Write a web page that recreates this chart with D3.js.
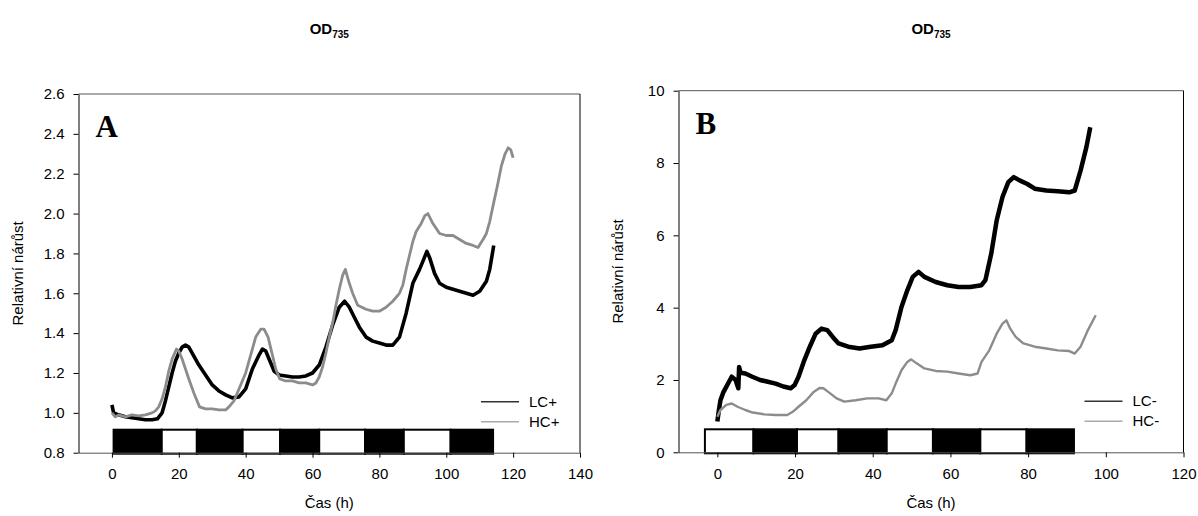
<!DOCTYPE html>
<html><head><meta charset="utf-8">
<script src="https://cdn.jsdelivr.net/npm/d3@7/dist/d3.min.js"></script>
<style>
body{margin:0;background:#fff;}
svg{display:block;font-family:"Liberation Sans",Arial,sans-serif;}
</style></head>
<body><svg id="c" width="1198" height="516"></svg>
<script>
// ---------- Panel A data ----------
const tA_LC = [0,0.5,2,4,6,8,10,12,13.6,15,16,17,18,19,20,21,22,23,24,26,28,30,32,34,36,38,40,42,44,45,46,47,48.5,50,52,54,56,58,60,62,64,66,68,69.6,71,72.5,74,76,78,80,82,84,86,88,90,92,93,94.2,95,96.5,98,100,102,104,106,108,110,112,113,114.2];
const vA_LC = [1.04,1.0,0.99,0.98,0.975,0.97,0.965,0.965,0.97,1.0,1.06,1.13,1.2,1.26,1.3,1.33,1.34,1.33,1.30,1.24,1.19,1.14,1.11,1.09,1.075,1.08,1.12,1.22,1.29,1.32,1.31,1.27,1.21,1.19,1.185,1.18,1.18,1.185,1.20,1.24,1.33,1.44,1.53,1.56,1.53,1.48,1.43,1.38,1.36,1.35,1.34,1.34,1.38,1.50,1.65,1.72,1.76,1.81,1.78,1.70,1.65,1.63,1.62,1.61,1.60,1.59,1.61,1.66,1.72,1.84];
const tA_HC = [0,1,2,4,6,8,10,12,13,14,15,16,17,18,19.3,20,21,22,23,24.5,26.2,28,30,32,34,35,36.5,38,40,42,43,44.5,45.5,46.7,48,49,50.2,52,54,56,58,60,61,62,63,64,65,66,67,68,69,69.8,71,72,73.5,76,78,80,82,84,86,87,88,90,91,92.5,93.6,94.5,96,98,100,102,104,106,108,109.5,111,112,113,114,115.3,116.5,117.6,118.5,119.3,120];
const vA_HC = [1.0,0.98,0.99,0.98,0.99,0.985,0.99,1.0,1.01,1.03,1.07,1.13,1.21,1.27,1.32,1.31,1.27,1.22,1.17,1.10,1.03,1.02,1.02,1.015,1.015,1.03,1.06,1.12,1.20,1.32,1.38,1.42,1.42,1.38,1.29,1.22,1.17,1.16,1.16,1.15,1.15,1.14,1.15,1.18,1.23,1.30,1.38,1.45,1.54,1.62,1.69,1.72,1.65,1.60,1.54,1.52,1.51,1.51,1.53,1.56,1.60,1.64,1.72,1.86,1.91,1.95,1.99,2.00,1.95,1.90,1.89,1.89,1.87,1.85,1.84,1.83,1.87,1.90,1.96,2.04,2.14,2.24,2.30,2.33,2.32,2.28,2.17];
const barStartA = [0.5,14.9,25.4,39.1,50.3,62.0,75.7,87.3,101.3];
const barEndA   = [14.9,25.4,39.1,50.3,62.0,75.7,87.3,101.3,114];
const barTypeA  = ["D","L","D","L","D","L","D","L","D"];
const xTicksA = [0,20,40,60,80,100,120,140];
const yTicksA = [0.8,1.0,1.2,1.4,1.6,1.8,2.0,2.2,2.4,2.6];
const legendA = ["LC+","HC+"];

// ---------- Panel B data ----------
const tB_LC = [0,0.4,0.8,1.5,2.3,3,3.7,4.7,5.4,5.6,6,7.2,9,11,13,15,17,18.9,19.9,20.9,22.4,23.8,25.3,26.8,28.3,29.7,31.2,33.7,36.6,39.5,42.5,44.9,45.9,47.4,48.9,50.3,51.8,53.3,56.2,59.2,62.1,65.1,68,69,70.5,71.9,73.4,74.9,76.3,77.8,79.8,81.7,84.7,87.6,90.6,92,93.5,95,96];
const vB_LC = [0.85,1.17,1.44,1.65,1.81,1.95,2.09,2.0,1.77,2.36,2.2,2.18,2.09,2.0,1.95,1.9,1.82,1.77,1.86,2.09,2.55,2.92,3.28,3.42,3.38,3.19,3.01,2.92,2.87,2.92,2.96,3.1,3.38,4.02,4.48,4.85,4.99,4.85,4.71,4.62,4.57,4.57,4.62,4.76,5.49,6.41,7.06,7.47,7.61,7.52,7.42,7.29,7.24,7.22,7.19,7.24,7.79,8.44,8.99];
const tB_HC = [0,0.8,2.3,3.7,5.2,7.2,9.1,12.1,15,18,19.4,20.9,22.9,24.8,26.3,27.3,28.8,30.7,32.7,35.6,38.6,41.5,43.5,44.9,45.9,47.4,48.9,49.9,51.3,53.3,56.2,59.2,62.1,65.1,67,68,70,71.9,73.4,74.4,75.4,76.8,78.8,81.7,84.7,87.6,90.6,92,93.5,95.4,97.4];
const vB_HC = [0.98,1.17,1.31,1.35,1.26,1.17,1.1,1.05,1.03,1.03,1.12,1.26,1.44,1.67,1.78,1.77,1.65,1.49,1.40,1.44,1.49,1.49,1.44,1.63,1.9,2.27,2.5,2.57,2.46,2.32,2.25,2.23,2.18,2.13,2.18,2.5,2.82,3.28,3.56,3.65,3.42,3.19,3.01,2.92,2.87,2.82,2.80,2.73,2.92,3.38,3.79];
const barStartB = [-3.2,9.3,20.5,31.2,43.6,55.5,67.7,79.6];
const barEndB   = [9.3,20.5,31.2,43.6,55.5,67.7,79.6,91.8];
const barTypeB  = ["L","D","L","D","L","D","L","D"];
const xTicksB = [0,20,40,60,80,100,120];
const yTicksB = [0,2,4,6,8,10];
const legendB = ["LC-","HC-"];

const panelLetters = ["A","B"];
const xTitle = "Čas (h)";
const yTitle = "Relativní nárůst";

const svg = d3.select("#c");

function panel(cfg){
  const {x, y, tLC, vLC, tHC, vHC, bs, be, bt, xt, yt, yfmt, leg, letter, lcW, hcW} = cfg;
  const g = svg.append("g");
  const [x0,x1] = x.range(), [y0,y1] = y.range();
  g.append("line").attr("x1",x0).attr("x2",x1).attr("y1",y1).attr("y2",y1).attr("stroke","#555");
  g.append("line").attr("x1",x1).attr("x2",x1).attr("y1",y1).attr("y2",y0).attr("stroke","#000");
  const line = d3.line().x(d=>x(d[0])).y(d=>y(d[1]));
  g.append("path").datum(d3.zip(tLC,vLC)).attr("d",line).attr("fill","none")
    .attr("stroke","#000").attr("stroke-width",lcW).attr("stroke-linejoin","round");
  g.append("path").datum(d3.zip(tHC,vHC)).attr("d",line).attr("fill","none")
    .attr("stroke","#8c8c8c").attr("stroke-width",hcW).attr("stroke-linejoin","round");
  const bars = d3.zip(bs,be,bt);
  g.selectAll("rect.bar").data(bars).join("rect").attr("class","bar")
    .attr("x",d=>x(d[0])).attr("width",d=>x(d[1])-x(d[0]))
    .attr("y",y0-23).attr("height",24)
    .attr("fill",d=>d[2]==="D"?"#000":"#fff")
    .attr("stroke","#000").attr("stroke-width",2);
  const ax = g.append("g").attr("transform",`translate(0,${y0})`)
    .call(d3.axisBottom(x).tickValues(xt).tickSize(5).tickSizeOuter(0).tickPadding(11).tickFormat(d3.format("d")));
  const ay = g.append("g").attr("transform",`translate(${x0},0)`)
    .call(d3.axisLeft(y).tickValues(yt).tickSize(5).tickSizeOuter(0).tickPadding(9).tickFormat(yfmt));
  ax.select(".domain").attr("stroke","#555");
  ay.select(".domain").attr("stroke","#000");
  [ax,ay].forEach(a=>{a.selectAll("text").attr("font-size",15).attr("fill","#000").attr("font-family","Liberation Sans, Arial");
    a.selectAll(".tick line").attr("stroke","#000");});
  const cx = (x0+x1)/2;
  g.append("text").attr("x",cx).attr("y",508).attr("text-anchor","middle").attr("font-size",15).text(xTitle);
  g.append("text").attr("transform",`translate(${x0-56},${(y0+y1)/2}) rotate(-90)`)
    .attr("text-anchor","middle").attr("font-size",15).text(yTitle);
  const t = g.append("text").attr("x",cx).attr("y",34).attr("text-anchor","middle")
    .attr("font-size",15).attr("font-weight","bold");
  t.append("tspan").text("OD");
  t.append("tspan").attr("font-size",10).attr("dy",4).text("735");
  g.append("text").attr("x",x0+17).attr("y",y1+43).attr("font-family","Liberation Serif, Times New Roman, serif")
    .attr("font-weight","bold").attr("font-size",31).text(letter);
  const lx = x1-99, ly = y0-51;
  leg.forEach((name,i)=>{
    g.append("line").attr("x1",lx).attr("x2",lx+38).attr("y1",ly+i*20).attr("y2",ly+i*20)
      .attr("stroke",i===0?"#333":"#aaa").attr("stroke-width",1.5);
    g.append("text").attr("x",lx+48).attr("y",ly+i*20+5).attr("font-size",15).text(name);
  });
}

panel({x:d3.scaleLinear([-10,140],[78.5,580]), y:d3.scaleLinear([0.8,2.6],[452.7,94]),
  tLC:tA_LC, vLC:vA_LC, tHC:tA_HC, vHC:vA_HC, bs:barStartA, be:barEndA, bt:barTypeA,
  xt:xTicksA, yt:yTicksA, yfmt:d3.format(".1f"), leg:legendA, letter:panelLetters[0], lcW:3.6, hcW:2.8});
panel({x:d3.scaleLinear([-10,120],[678.5,1183.5]), y:d3.scaleLinear([0,10],[452.3,90.7]),
  tLC:tB_LC, vLC:vB_LC, tHC:tB_HC, vHC:vB_HC, bs:barStartB, be:barEndB, bt:barTypeB,
  xt:xTicksB, yt:yTicksB, yfmt:d3.format("d"), leg:legendB, letter:panelLetters[1], lcW:4.5, hcW:2.4});
</script></body></html>
